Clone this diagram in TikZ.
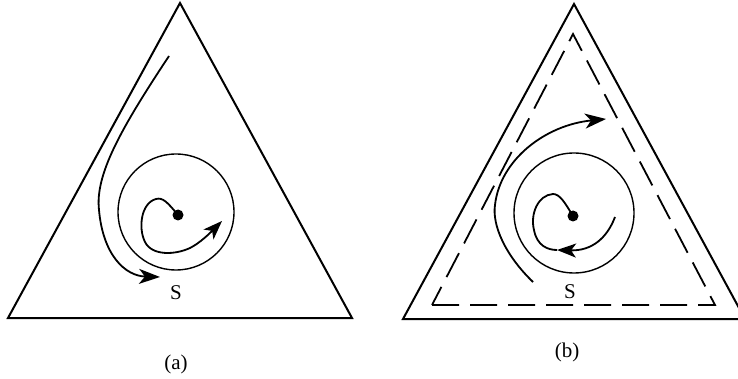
\documentclass[tikz,border=0pt]{standalone}
\usepackage{fontspec}
\setmainfont{Liberation Serif}
\usetikzlibrary{arrows.meta}
\begin{document}
\begin{tikzpicture}[x=1pt,y=-1pt,
  tri/.style={line width=2pt, line join=miter},
  dtri/.style={line width=1.8pt, dash pattern=on 27pt off 11pt},
  orbit/.style={line width=1.4pt},
  traj/.style={line width=1.8pt},
  bigarrow/.style={-{Stealth[length=21pt,width=15pt,inset=6pt]}},
  smallarrow/.style={-{Stealth[length=19pt,width=14pt,inset=5pt]}},
  eq/.style={circle, fill=black, inner sep=0pt, minimum size=11pt},
  lab/.style={font=\fontsize{21}{24}\selectfont, inner sep=0pt}]
\useasboundingbox (0,0) rectangle (738,379);

% ---------- panel (a) ----------
\coordinate (a1) at (180,3);
\coordinate (a2) at (8,318);
\coordinate (a3) at (352,318);
\draw[tri] (a1) -- (a2) -- (a3) -- cycle;
\coordinate (ac) at (176,212);
\draw[orbit] (ac) circle[radius=58];
\node[eq] (adot) at (178,215) {};
\coordinate (aos) at (169,56);
\coordinate (aom) at (99,210);
\coordinate (aoe) at (160,277);
\draw[traj,bigarrow] (aos) .. controls (120,130) and (95,175) .. (aom)
  .. controls (103,255) and (125,276) .. (aoe);
\coordinate (ai1) at (156,199);
\coordinate (ai2) at (145,242);
\coordinate (ai3) at (190,248);
\coordinate (aie) at (222,221);
\draw[traj,smallarrow] (adot.center) .. controls (168,203) and (163,197) .. (ai1)
  .. controls (141,203) and (138,228) .. (ai2)
  .. controls (152,256) and (175,255) .. (ai3)
  .. controls (200,243) and (210,233) .. (aie);
\node[lab] (aS) at (176,293) {S};
\node[lab] (alabel) at (176,364) {(a)};

% ---------- panel (b) ----------
\coordinate (b1) at (574,4);
\coordinate (b2) at (403,319);
\coordinate (b3) at (745,319);
\draw[tri] (b1) -- (b2) -- (b3) -- cycle;
\coordinate (d1) at (573,34);
\coordinate (d2) at (432,305);
\coordinate (d3) at (715,305);
\draw[dtri] (d2) -- (d3) -- (d1) -- cycle;
\coordinate (bc) at (574,213);
\draw[orbit] (bc) circle[radius=60];
\node[eq] (bdot) at (573,216) {};
\coordinate (bos) at (533,282);
\coordinate (bom) at (495,205);
\coordinate (boe) at (606,119);
\draw[traj,bigarrow] (bos) .. controls (505,255) and (492,225) .. (bom)
  .. controls (500,160) and (545,125) .. (boe);
\coordinate (bis) at (615,217);
\coordinate (bit) at (557,250);
\draw[traj,smallarrow] (bis) .. controls (607,238) and (592,251) .. (bit);
\coordinate (bi1) at (553,194);
\coordinate (bi2) at (534,230);
\draw[traj] (bdot.center) .. controls (565,203) and (560,194) .. (bi1)
  .. controls (538,195) and (530,214) .. (bi2)
  .. controls (537,246) and (548,250) .. (bit);
\node[lab] (bS) at (570,292) {S};
\node[lab] (blabel) at (567,352) {(b)};
\end{tikzpicture}
\end{document}
